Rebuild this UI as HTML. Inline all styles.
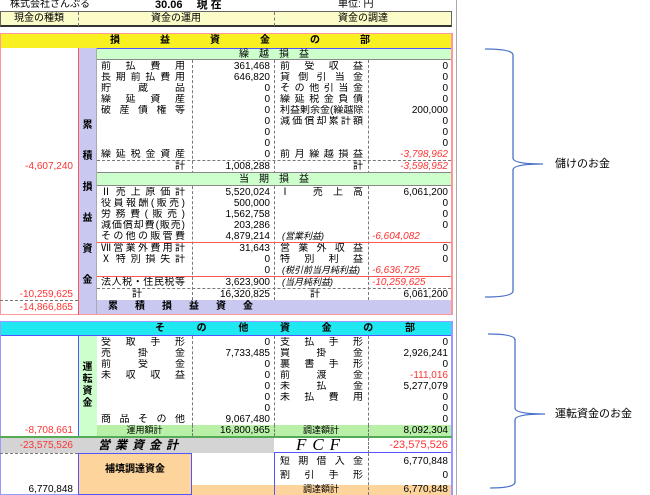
<!DOCTYPE html>
<html><head><meta charset="utf-8"><style>
*{margin:0;padding:0;box-sizing:border-box}
body{width:650px;height:495px;background:#fff;position:relative;overflow:hidden;font-family:"Liberation Sans","Noto Sans CJK JP",sans-serif;font-size:10px;color:#000}
div{position:absolute}
.l{height:11px;line-height:11px;text-align:justify;text-align-last:justify;white-space:nowrap;overflow:hidden}
.a{height:11px;line-height:11px;text-align:right;white-space:nowrap}
.r{color:#f33}
.i{font-style:italic}
.c{text-align:center}
.dv{border-left:1px dashed #777}
.dh{border-top:1px dashed #777}
</style></head><body>
<div style="left:10px;top:0;line-height:10px">株式会社さんぷる</div>
<div style="left:155px;top:0;line-height:10px;font-weight:bold;font-size:11px">30.06　 現 在</div>
<div style="left:338px;top:0;line-height:10px">単位:  円</div>
<!-- header -->
<div style="left:0;top:11px;width:452px;height:16px;background:#fcfcc8;border:1px solid #666;border-bottom:2px solid #333"></div>
<div class="dv" style="left:78px;top:12px;height:14px"></div>
<div class="dv" style="left:274px;top:12px;height:14px"></div>
<div style="left:0;top:13px;width:78px;line-height:12px" class="c">現金の種類</div>
<div style="left:78px;top:13px;width:196px;line-height:12px" class="c">資金の運用</div>
<div style="left:274px;top:13px;width:178px;line-height:12px" class="c">資金の調達</div>
<!-- section 1 -->
<div style="left:0;top:33px;width:453px;height:282px;border:1px solid #f99;border-right:2px solid #f99"></div>
<div style="left:1px;top:34px;width:450px;height:14px;background:#f8f020"></div>
<div style="left:110px;top:35px;width:260px;line-height:12px;font-weight:bold;display:flex;justify-content:space-between"><span>損</span><span>益</span><span>資</span><span>金</span><span>の</span><span>部</span></div>
<div style="left:78px;top:48px;width:19px;height:266px;background:#c8c8f0;border-left:1px solid #f55;border-right:1px solid #aaa"></div>
<div style="left:79px;top:110px;width:17px;font-weight:bold;line-height:31px;text-align:center">累<br>積<br>損<br>益<br>資<br>金</div>
<div style="left:78px;top:48px;width:1px;height:267px;background:#f55"></div>
<div style="left:97px;top:48px;width:354px;height:12px;background:#ccffcc;border-top:1px solid #55f;border-bottom:1px solid #888"></div>
<div style="left:97px;top:49px;width:354px;line-height:11px;text-align:center">繰　越　損　益</div>
<div class="dv" style="left:192px;top:60px;height:240px"></div>
<div class="dv" style="left:274px;top:60px;height:240px"></div>
<div class="dv" style="left:368px;top:60px;height:240px"></div>
<div class="l" style="left:101px;top:61px;width:84px">前払費用</div><div class="a" style="left:192px;top:61px;width:78px">361,468</div>
<div class="l" style="left:101px;top:72px;width:84px">長期前払費用</div><div class="a" style="left:192px;top:72px;width:78px">646,820</div>
<div class="l" style="left:101px;top:83px;width:84px">貯蔵品</div><div class="a" style="left:192px;top:83px;width:78px">0</div>
<div class="l" style="left:101px;top:94px;width:84px">繰延資産</div><div class="a" style="left:192px;top:94px;width:78px">0</div>
<div class="l" style="left:101px;top:105px;width:84px">破産債権等</div><div class="a" style="left:192px;top:105px;width:78px">0</div>
<div class="a" style="left:192px;top:116px;width:78px">0</div>
<div class="a" style="left:192px;top:127px;width:78px">0</div>
<div class="a" style="left:192px;top:138px;width:78px">0</div>
<div class="l" style="left:101px;top:149px;width:84px">繰延税金資産</div><div class="a" style="left:192px;top:149px;width:78px">0</div>
<div class="l" style="left:280px;top:61px;width:83px">前受収益</div><div class="a" style="left:368px;top:61px;width:80px">0</div>
<div class="l" style="left:280px;top:72px;width:83px">貸倒引当金</div><div class="a" style="left:368px;top:72px;width:80px">0</div>
<div class="l" style="left:280px;top:83px;width:83px">その他引当金</div><div class="a" style="left:368px;top:83px;width:80px">0</div>
<div class="l" style="left:280px;top:94px;width:83px">繰延税金負債</div><div class="a" style="left:368px;top:94px;width:80px">0</div>
<div class="l" style="left:280px;top:105px;width:86px;text-align-last:auto;text-align:left">利益剰余金(繰越除</div><div class="a" style="left:368px;top:105px;width:80px">200,000</div>
<div class="l" style="left:280px;top:116px;width:83px">減価償却累計額</div><div class="a" style="left:368px;top:116px;width:80px">0</div>
<div class="a" style="left:368px;top:127px;width:80px">0</div>
<div class="a" style="left:368px;top:138px;width:80px">0</div>
<div class="l" style="left:280px;top:149px;width:83px">前月繰越損益</div><div class="a r i" style="left:368px;top:149px;width:80px">-3,798,962</div>
<div class="dh" style="left:97px;top:160px;width:354px"></div>
<div class="a" style="left:97px;top:161px;width:88px">計</div><div class="a" style="left:192px;top:161px;width:78px">1,008,288</div>
<div class="a" style="left:274px;top:161px;width:89px">計</div><div class="a r i" style="left:368px;top:161px;width:80px">-3,598,952</div>
<div class="a r" style="left:0;top:161px;width:73px">-4,607,240</div>
<div style="left:97px;top:172px;width:354px;height:14px;background:#ccffcc;border-top:1px solid #888;border-bottom:1px solid #888"></div>
<div style="left:97px;top:174px;width:354px;line-height:11px;text-align:center">当　期　損　益</div>
<div class="l" style="left:101px;top:187px;width:84px">Ⅱ売上原価計</div><div class="a" style="left:192px;top:187px;width:78px">5,520,024</div>
<div class="l" style="left:101px;top:198px;width:84px">役員報酬(販売)</div><div class="a" style="left:192px;top:198px;width:78px">500,000</div>
<div class="l" style="left:101px;top:209px;width:84px">労務費(販売)</div><div class="a" style="left:192px;top:209px;width:78px">1,562,758</div>
<div class="l" style="left:101px;top:220px;width:84px">減価償却費(販売)</div><div class="a" style="left:192px;top:220px;width:78px">203,286</div>
<div class="l" style="left:101px;top:231px;width:84px">その他の販管費</div><div class="a" style="left:192px;top:231px;width:78px">4,879,214</div>
<div class="l" style="left:280px;top:187px;width:83px">Ⅰ 売上高</div><div class="a" style="left:368px;top:187px;width:80px">6,061,200</div>
<div class="a" style="left:368px;top:198px;width:80px">0</div>
<div class="a" style="left:368px;top:209px;width:80px">0</div>
<div class="a" style="left:368px;top:220px;width:80px">0</div>
<div class="i" style="left:282px;top:231px;line-height:11px;font-size:9px">(営業利益)</div><div class="r i" style="left:372px;top:231px;line-height:11px">-6,604,082</div>
<div style="left:97px;top:242px;width:354px;height:1px;background:#f55"></div>
<div class="l" style="left:101px;top:243px;width:84px">Ⅶ営業外費用計</div><div class="a" style="left:192px;top:243px;width:78px">31,643</div>
<div class="l" style="left:101px;top:254px;width:84px">Ⅹ特別損失計</div><div class="a" style="left:192px;top:254px;width:78px">0</div>
<div class="a" style="left:192px;top:265px;width:78px">0</div>
<div class="l" style="left:280px;top:243px;width:83px">営業外収益</div><div class="a" style="left:368px;top:243px;width:80px">0</div>
<div class="l" style="left:280px;top:254px;width:83px">特別利益</div><div class="a" style="left:368px;top:254px;width:80px">0</div>
<div class="i" style="left:282px;top:265px;line-height:11px;font-size:9px">(税引前当月純利益)</div><div class="r i" style="left:372px;top:265px;line-height:11px">-6,636,725</div>
<div style="left:97px;top:276px;width:354px;height:1px;background:#f55"></div>
<div class="l" style="left:101px;top:277px;width:84px">法人税・住民税等</div><div class="a" style="left:192px;top:277px;width:78px">3,623,900</div>
<div class="i" style="left:282px;top:277px;line-height:11px;font-size:9px">(当月純利益)</div><div class="r i" style="left:372px;top:277px;line-height:11px">-10,259,625</div>
<div class="dh" style="left:97px;top:288px;width:354px"></div>
<div class="a" style="left:97px;top:289px;width:45px">計</div><div class="a" style="left:192px;top:289px;width:78px">16,320,825</div>
<div class="a" style="left:274px;top:289px;width:46px">計</div><div class="a" style="left:368px;top:289px;width:80px">6,061,200</div>
<div class="a r" style="left:0;top:289px;width:73px">-10,259,625</div>
<div class="dh" style="left:0;top:300px;width:78px"></div>
<div style="left:97px;top:300px;width:354px;height:14px;background:#c8c8f0"></div>
<div style="left:108px;top:301px;width:145px;line-height:12px;font-weight:bold;display:flex;justify-content:space-between"><span>累</span><span>積</span><span>損</span><span>益</span><span>資</span><span>金</span></div>
<div class="a r" style="left:0;top:302px;width:73px">-14,866,865</div>
<!-- section 2 -->
<div style="left:0;top:321px;width:453px;height:174px;border:1px solid #99f;border-right:2px solid #99f"></div>
<div style="left:1px;top:322px;width:450px;height:14px;background:#20e8f0;border-bottom:1px solid #55f"></div>
<div style="left:155px;top:323px;width:260px;line-height:12px;font-weight:bold;display:flex;justify-content:space-between"><span>そ</span><span>の</span><span>他</span><span>資</span><span>金</span><span>の</span><span>部</span></div>
<div style="left:78px;top:336px;width:19px;height:100px;background:#ccffcc;border-left:1px solid #55f"></div>
<div style="left:79px;top:362px;width:17px;font-weight:bold;line-height:12px;text-align:center">運<br>転<br>資<br>金</div>
<div class="dv" style="left:192px;top:336px;height:100px"></div>
<div class="dv" style="left:274px;top:336px;height:100px"></div>
<div class="dv" style="left:368px;top:336px;height:100px"></div>
<div class="l" style="left:101px;top:337px;width:84px">受取手形</div><div class="a" style="left:192px;top:337px;width:78px">0</div>
<div class="l" style="left:101px;top:348px;width:84px">売掛金</div><div class="a" style="left:192px;top:348px;width:78px">7,733,485</div>
<div class="l" style="left:101px;top:359px;width:84px">前受金</div><div class="a" style="left:192px;top:359px;width:78px">0</div>
<div class="l" style="left:101px;top:370px;width:84px">未収収益</div><div class="a" style="left:192px;top:370px;width:78px">0</div>
<div class="a" style="left:192px;top:381px;width:78px">0</div>
<div class="a" style="left:192px;top:392px;width:78px">0</div>
<div class="a" style="left:192px;top:403px;width:78px">0</div>
<div class="l" style="left:101px;top:414px;width:84px">商品その他</div><div class="a" style="left:192px;top:414px;width:78px">9,067,480</div>
<div class="l" style="left:280px;top:337px;width:83px">支払手形</div><div class="a" style="left:368px;top:337px;width:80px">0</div>
<div class="l" style="left:280px;top:348px;width:83px">買掛金</div><div class="a" style="left:368px;top:348px;width:80px">2,926,241</div>
<div class="l" style="left:280px;top:359px;width:83px">裏書手形</div><div class="a" style="left:368px;top:359px;width:80px">0</div>
<div class="l" style="left:280px;top:370px;width:83px">前渡金</div><div class="a r" style="left:368px;top:370px;width:80px">-111,016</div>
<div class="l" style="left:280px;top:381px;width:83px">未払金</div><div class="a" style="left:368px;top:381px;width:80px">5,277,079</div>
<div class="l" style="left:280px;top:392px;width:83px">未払費用</div><div class="a" style="left:368px;top:392px;width:80px">0</div>
<div class="a" style="left:368px;top:403px;width:80px">0</div>
<div class="a" style="left:368px;top:414px;width:80px">0</div>
<div style="left:97px;top:425px;width:354px;height:11px;background:#b8f0a8"></div>
<div class="dv" style="left:192px;top:425px;height:11px"></div><div class="dv" style="left:274px;top:425px;height:11px"></div><div class="dv" style="left:368px;top:425px;height:11px"></div>
<div class="c" style="left:97px;top:425px;width:95px;line-height:11px;font-size:9px">運用額計</div><div class="a" style="left:192px;top:425px;width:78px">16,800,965</div>
<div class="c" style="left:274px;top:425px;width:94px;line-height:11px;font-size:9px">調達額計</div><div class="a" style="left:368px;top:425px;width:80px">8,092,304</div>
<div class="a r" style="left:0;top:425px;width:73px">-8,708,661</div>
<div style="left:0;top:436px;width:452px;height:2px;background:#5a5"></div>
<div style="left:1px;top:438px;width:273px;height:15px;background:#d4d4d4"></div>
<div class="a r" style="left:0;top:440px;width:73px">-23,575,526</div>
<div class="i" style="left:98px;top:439px;width:95px;line-height:13px;font-weight:bold;font-size:12px;letter-spacing:5px">営業資金計</div>
<div style="left:274px;top:438px;width:177px;height:15px;border-bottom:1px solid #55f"></div>
<div class="c i" style="left:274px;top:437px;width:94px;line-height:16px;font-family:'Liberation Serif',serif;font-size:17px;letter-spacing:6px">FCF</div>
<div class="dv" style="left:368px;top:438px;height:15px"></div>
<div class="a r" style="left:368px;top:440px;width:80px;font-size:11px">-23,575,526</div>
<div class="dh" style="left:0;top:453px;width:78px"></div>
<div style="left:78px;top:453px;width:114px;height:42px;background:#fcd49c;border:1px solid #55f"></div>
<div class="c" style="left:78px;top:464px;width:114px;font-weight:bold;line-height:12px">補填調達資金</div>
<div style="left:192px;top:485px;width:259px;height:10px;background:#fcd49c"></div>
<div style="left:274px;top:453px;width:1px;height:42px;background:#55f"></div>
<div class="dv" style="left:368px;top:453px;height:42px"></div>
<div class="l" style="left:280px;top:456px;width:83px">短期借入金</div><div class="a" style="left:368px;top:456px;width:80px">6,770,848</div>
<div class="l" style="left:280px;top:470px;width:83px">割引手形</div><div class="a" style="left:368px;top:470px;width:80px">0</div>
<div class="c" style="left:274px;top:484px;width:94px;line-height:11px;font-size:9px">調達額計</div><div class="a" style="left:368px;top:484px;width:80px">6,770,848</div>
<div class="a" style="left:0;top:484px;width:73px">6,770,848</div>
<div style="left:456px;top:0;width:1px;height:495px;background:#aaa"></div>
<!-- braces -->
<svg style="position:absolute;left:0;top:0" width="650" height="495">
<path d="M485 49 Q513 49 513 55 L513 158 Q513 164 543 164 Q513 164 513 170 L513 291 Q513 297 485 297" fill="none" stroke="#4a72c8" stroke-width="1.3"/>
<path d="M488 334 Q515 334 515 340 L515 408 Q515 414 545 414 Q515 414 515 420 L515 482 Q515 488 490 488" fill="none" stroke="#4a72c8" stroke-width="1.3"/>
</svg>
<div style="left:555px;top:157px;font-size:11px;line-height:14px">儲けのお金</div>
<div style="left:555px;top:407px;font-size:11px;line-height:14px">運転資金のお金</div>
</body></html>
